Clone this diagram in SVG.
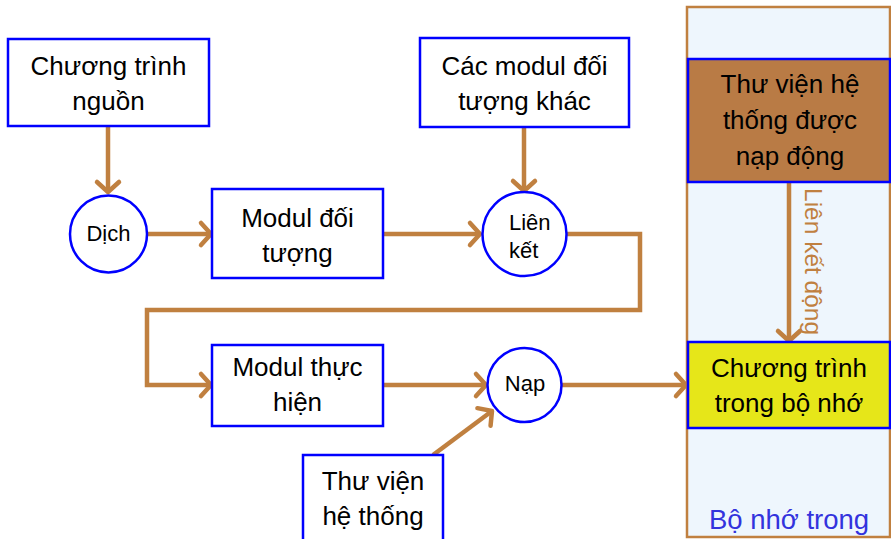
<svg xmlns="http://www.w3.org/2000/svg" width="891" height="539" viewBox="0 0 891 539">
<defs>
<marker id="ah" markerUnits="userSpaceOnUse" markerWidth="30" markerHeight="30" viewBox="-15 -15 30 30" refX="0" refY="0" orient="auto">
<path d="M-10,-11 L0,0 L-10,11" fill="none" stroke="#c08040" stroke-width="4.5" stroke-linecap="round" stroke-linejoin="round"/>
</marker>
</defs>
<style>
.box{fill:#ffffff;stroke:#0000ff;stroke-width:2.5}
.t{font-family:"Liberation Sans","DejaVu Sans",sans-serif;font-size:26px;fill:#000;text-anchor:middle}
.s{font-family:"Liberation Sans","DejaVu Sans",sans-serif;font-size:22px;fill:#000;text-anchor:middle}
.c{fill:none;stroke:#c08040;stroke-width:4.5;stroke-linejoin:miter}
.ca{fill:none;stroke:#c08040;stroke-width:4.5;marker-end:url(#ah)}
</style>
<rect width="891" height="539" fill="#ffffff"/>
<g id="memory">
<rect x="687" y="7" width="203" height="530" fill="#eef6fd" stroke="#c08040" stroke-width="2.5"/>
<text x="789" y="529" class="t" style="fill:#3333dd;font-size:27.5px">Bộ nhớ trong</text>
</g>
<g id="connectors">
<path class="ca" d="M108,127 V192"/>
<path class="ca" d="M147,234 H211"/>
<path class="ca" d="M383,234 H480"/>
<path class="ca" d="M524,127 V191"/>
<path class="ca" d="M567,234 H640 V310 H147 V385 H211"/>
<path class="ca" d="M383,385 H486"/>
<path class="ca" d="M433,455 L492,411"/>
<path class="ca" d="M561,385 H686"/>
<path class="ca" d="M789,182 V341"/>
<text x="0" y="0" transform="translate(805,188) rotate(90)" class="s" style="text-anchor:start;fill:#c08040;font-size:24.5px">Liên kết động</text>
</g>
<g id="nguon">
<rect class="box" x="8" y="39" width="201" height="87"/>
<text x="108.5" y="75" class="t">Chương trình</text>
<text x="108.5" y="110" class="t">nguồn</text>
</g>
<g id="dich">
<circle cx="108.5" cy="234" r="38.5" fill="#fff" stroke="#0000ff" stroke-width="2.5"/>
<text x="108.5" y="241" class="s">Dịch</text>
</g>
<g id="modul-doi-tuong">
<rect class="box" x="212" y="189" width="171" height="89"/>
<text x="297.5" y="227" class="t">Modul đối</text>
<text x="297.5" y="262" class="t">tượng</text>
</g>
<g id="cac-modul">
<rect class="box" x="420" y="38" width="209" height="89"/>
<text x="524.5" y="75" class="t">Các modul đối</text>
<text x="524.5" y="110" class="t">tượng khác</text>
</g>
<g id="lien-ket">
<circle cx="524.5" cy="234" r="42" fill="#fff" stroke="#0000ff" stroke-width="2.5"/>
<text x="509" y="230" class="s" style="text-anchor:start">Liên</text>
<text x="509" y="258" class="s" style="text-anchor:start">kết</text>
</g>
<g id="modul-thuc-hien">
<rect class="box" x="212" y="345" width="171" height="81"/>
<text x="297.5" y="376" class="t">Modul thực</text>
<text x="297.5" y="411" class="t">hiện</text>
</g>
<g id="nap">
<circle cx="524.5" cy="385" r="37" fill="#fff" stroke="#0000ff" stroke-width="2.5"/>
<text x="525" y="391" class="s">Nạp</text>
</g>
<g id="thu-vien">
<rect class="box" x="303" y="455" width="140" height="100"/>
<text x="373" y="490" class="t">Thư viện</text>
<text x="373" y="525" class="t">hệ thống</text>
</g>
<g id="thu-vien-dong">
<rect x="688" y="59" width="202" height="123" fill="#b97b45" stroke="#0000ff" stroke-width="2.5"/>
<text x="790" y="93" class="t">Thư viện hệ</text>
<text x="790" y="129" class="t">thống được</text>
<text x="790" y="165" class="t">nạp động</text>
</g>
<g id="chuong-trinh-bo-nho">
<rect x="688" y="342" width="202" height="86" fill="#e6e619" stroke="#0000ff" stroke-width="2.5"/>
<text x="789" y="377" class="t">Chương trình</text>
<text x="789" y="412" class="t">trong bộ nhớ</text>
</g>
</svg>
